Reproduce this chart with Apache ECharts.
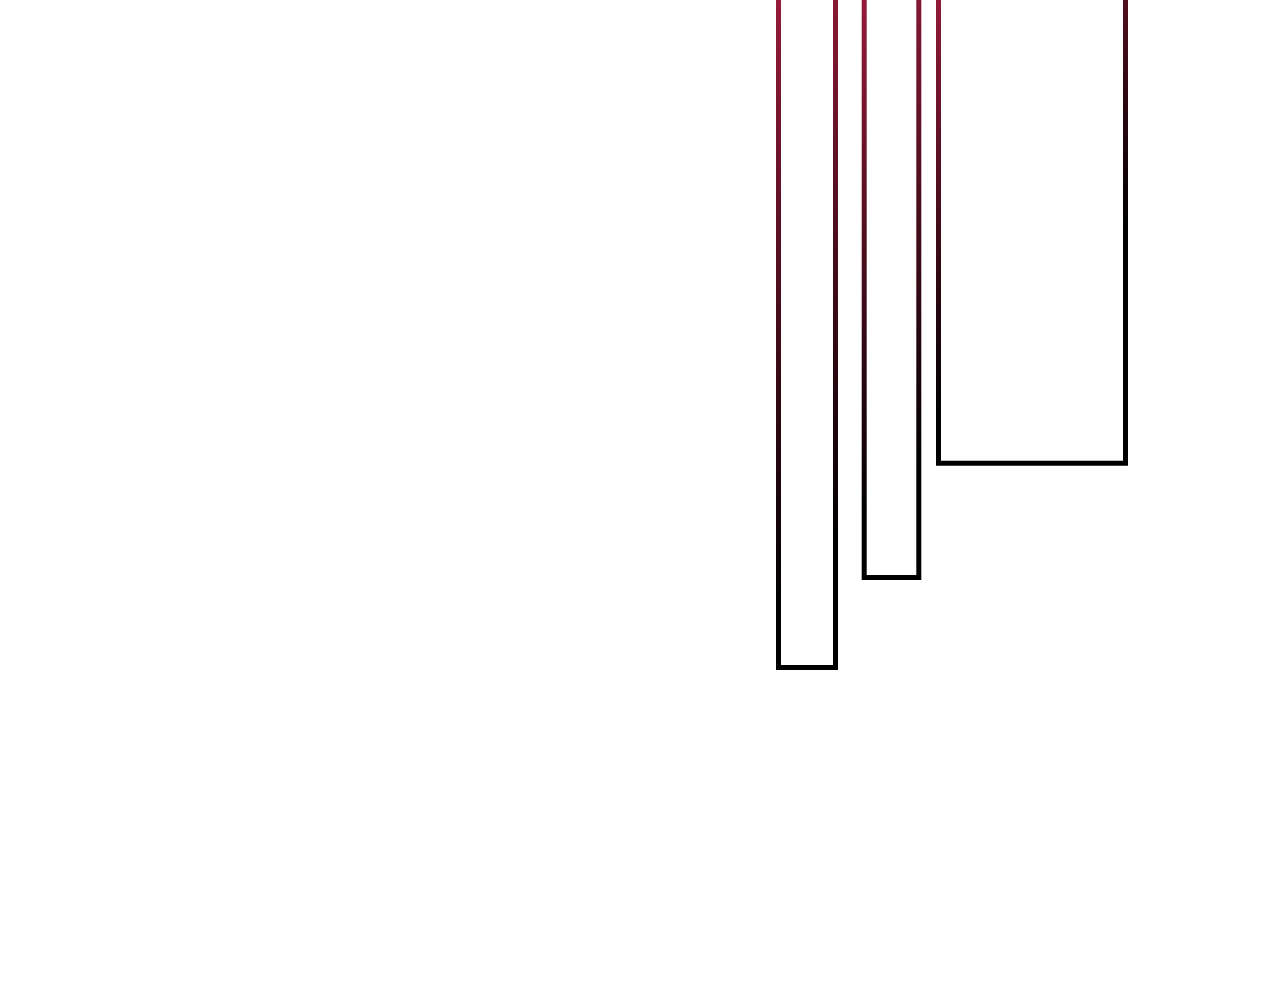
<!DOCTYPE html>
<html>
<head>
<meta charset="utf-8">
<script src="https://cdn.jsdelivr.net/npm/echarts@6/dist/echarts.min.js"></script>
<style>
  html, body { margin: 0; padding: 0; background: #ffffff; }
  #chart { width: 1280px; height: 1000px; }
</style>
</head>
<body>
<div id="chart"></div>
<script>
// Bars: horizontal extent (start/end on the x value axis), top and depth (inverted y value axis)
const barStart = [77.85, 86.42, 93.85];
const barEnd   = [83.55, 91.88, 112.55];
const barTop   = [-3, -3, -3];
const barDepth = [66.75, 57.75, 46.32];

const topColor = '#9c1c3c';
const bottomColor = '#000000';

const data = barStart.map((s, i) => [s, barEnd[i], barTop[i], barDepth[i]]);

const chart = echarts.init(document.getElementById('chart'));
chart.setOption({
  backgroundColor: '#ffffff',
  animation: false,
  grid: { left: 0, right: 0, top: 0, bottom: 0 },
  xAxis: { type: 'value', min: 0, max: 128, show: false, splitLine: { show: false } },
  yAxis: { type: 'value', min: 0, max: 100, inverse: true, show: false, splitLine: { show: false } },
  series: [{
    type: 'custom',
    clip: false,
    data: data,
    renderItem: function (params, api) {
      const x0 = api.value(0), x1 = api.value(1), v0 = api.value(2), v = api.value(3);
      const p0 = api.coord([x0, v0]);
      const p1 = api.coord([x1, v]);
      const left = p0[0], top = p0[1];
      const w = p1[0] - p0[0], h = p1[1] - p0[1];
      const d = 0.45 * h;
      return {
        type: 'rect',
        shape: { x: left, y: top, width: w, height: h },
        style: {
          fill: 'transparent',
          lineWidth: 5,
          stroke: {
            type: 'linear', global: true,
            x: left, y: top, x2: left + d, y2: top + d,
            colorStops: [
              { offset: 0, color: topColor },
              { offset: 1, color: bottomColor }
            ]
          }
        }
      };
    }
  }]
});
</script>
</body>
</html>
